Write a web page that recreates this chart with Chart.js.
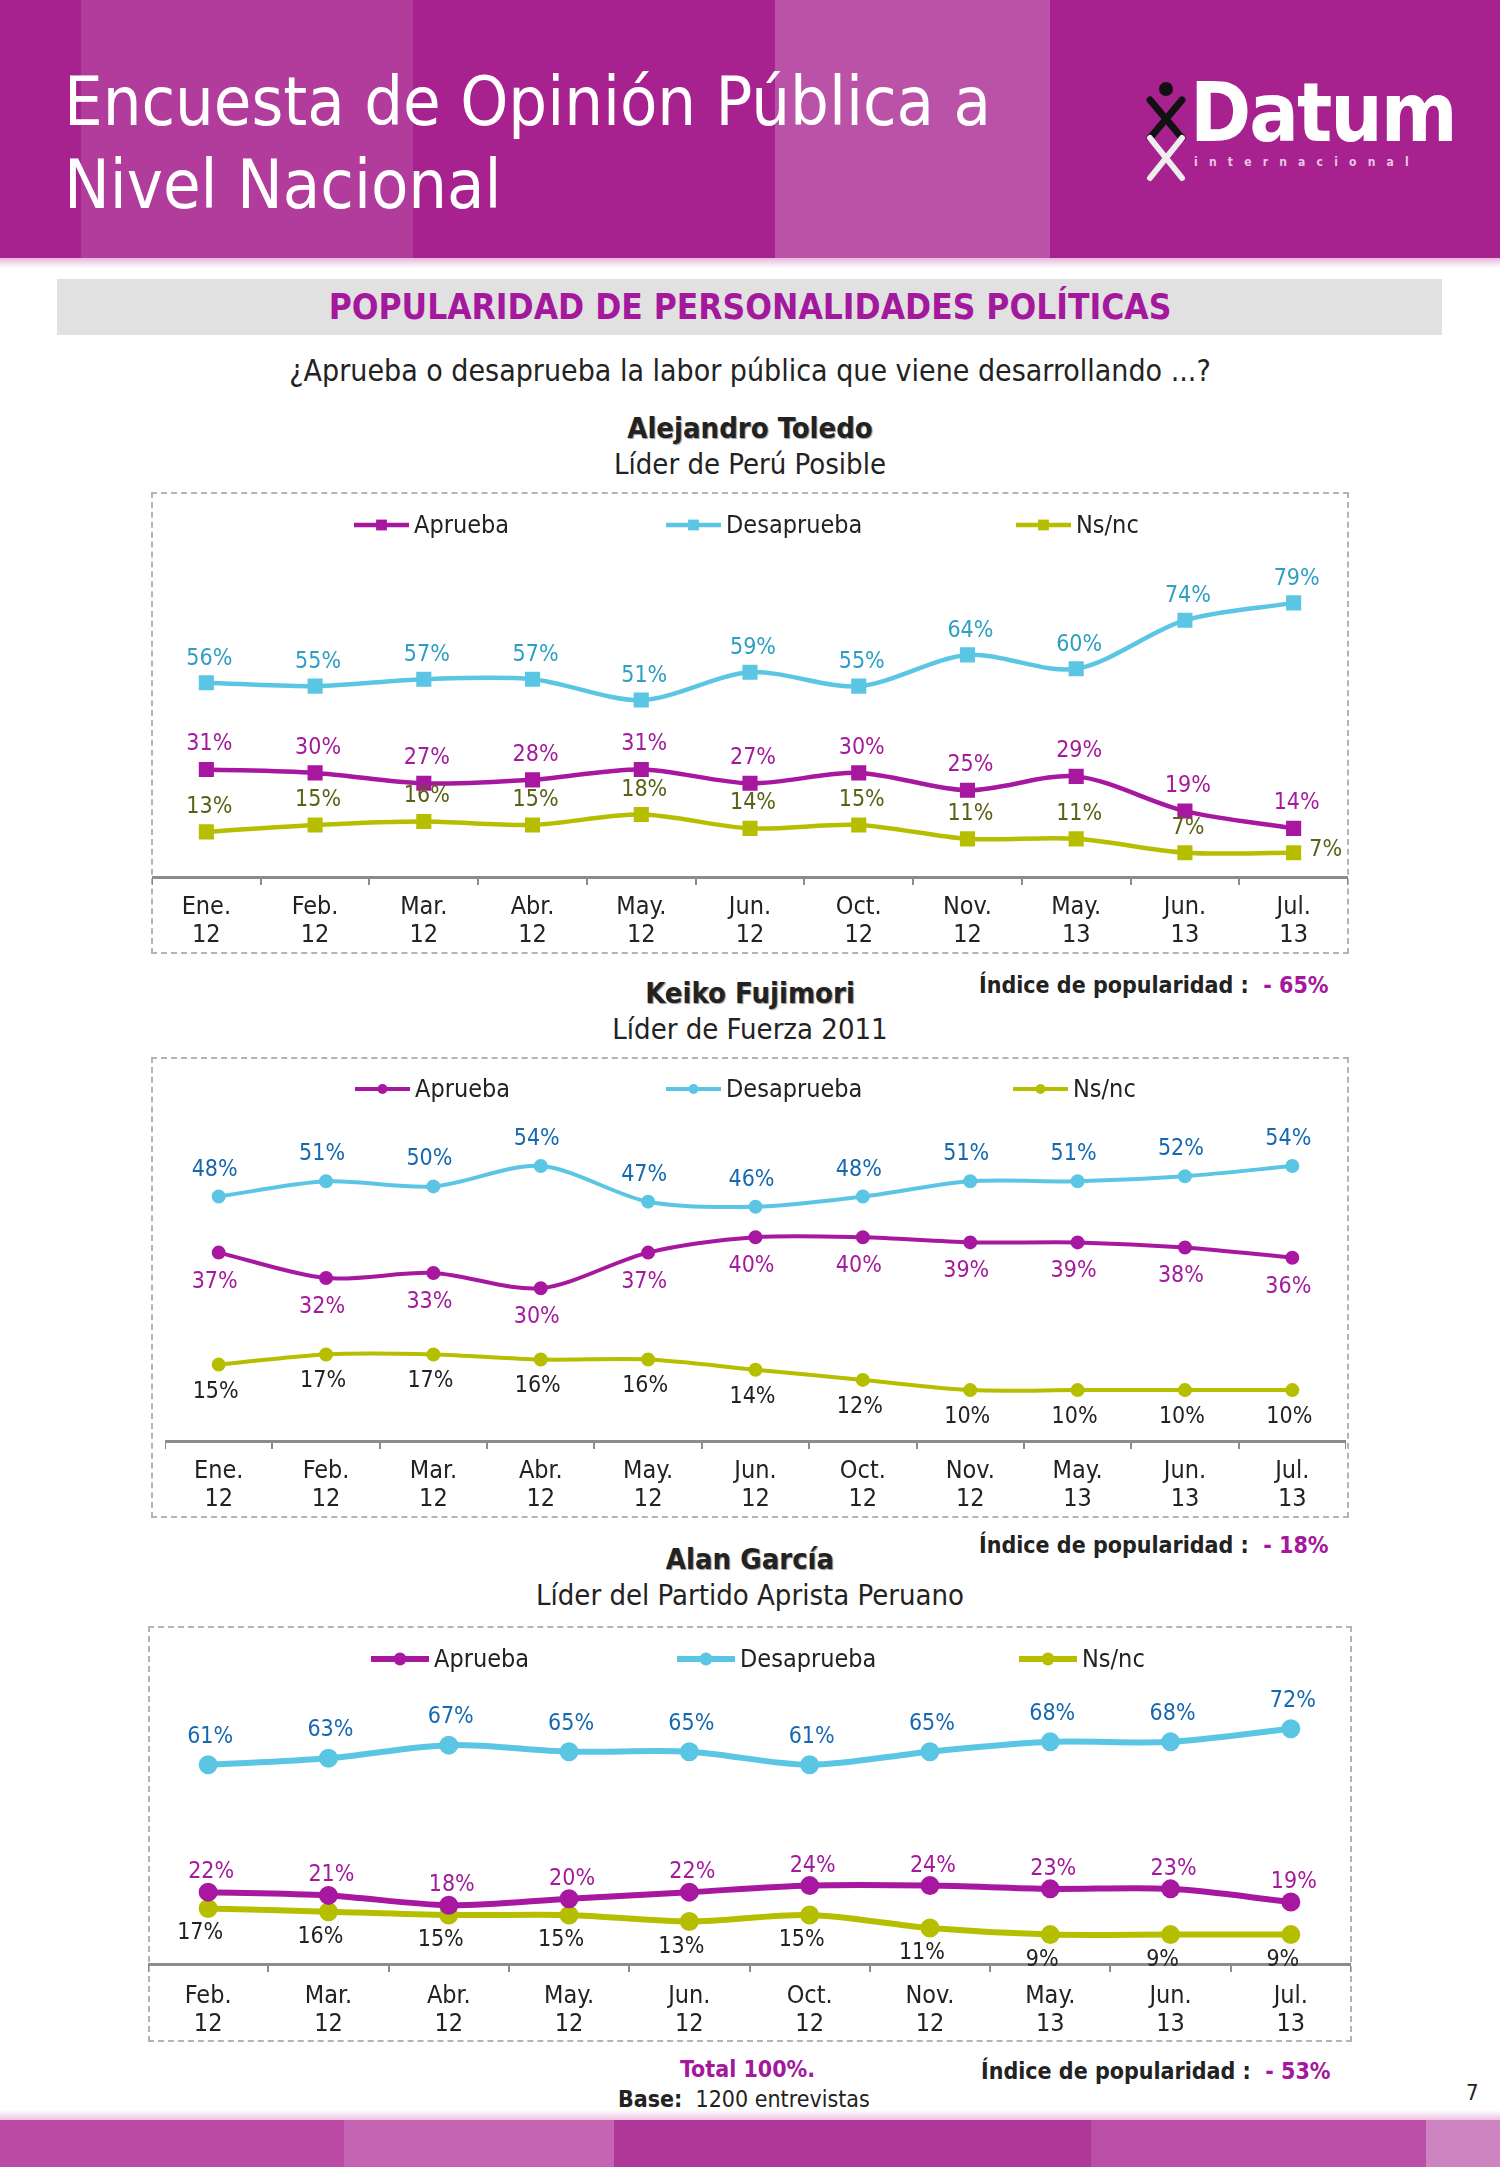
<!DOCTYPE html>
<html>
<head>
<meta charset="utf-8">
<script src="https://cdn.jsdelivr.net/npm/chart.js@4.4.1/dist/chart.umd.min.js"></script>
<style>
  body { margin: 0; background: #fff; }
  #page { position: relative; width: 1500px; height: 2167px; overflow: hidden;
          font-family: 'DejaVu Sans Condensed', 'DejaVu Sans', sans-serif; font-stretch: condensed; color: #222; }
  .abs { position: absolute; }
  .stripe { position: absolute; top: 0; height: 100%; }
  .center { left: 0; width: 1500px; text-align: center; white-space: nowrap; }
  .box { position: absolute; border: 2px dashed #b4b4b4; box-sizing: border-box; }
  .plot { position: absolute; }
  .idx { font-size: 23px; font-weight: bold; white-space: nowrap; color: #222; }
  .idx b { color: #a3189c; }
  .leg { position: absolute; display: flex; align-items: center; font-size: 25px; line-height: 28px; white-space: nowrap; }
  .leg canvas { margin-right: 5px; }
</style>
</head>
<body>
<div id="page">
  <!-- header band -->
  <div class="abs" style="left:0;top:0;width:1500px;height:258px;background:#a8228f;">
    <div class="stripe" style="left:81px;width:332px;background:#b13c9c;"></div>
    <div class="stripe" style="left:775px;width:275px;background:#ba52a8;"></div>
  </div>
  <div class="abs" style="left:0;top:258px;width:1500px;height:10px;background:linear-gradient(#e7b7dc,#fff);"></div>
  <div class="abs" style="left:64px;top:68px;font-size:68px;line-height:68px;color:#fff;white-space:nowrap;">Encuesta de Opinión Pública a</div>
  <div class="abs" style="left:64px;top:151px;font-size:68px;line-height:68px;color:#fff;white-space:nowrap;">Nivel Nacional</div>

  <!-- logo -->
  <svg class="abs" style="left:1142px;top:80px;" width="48" height="104" viewBox="0 0 48 104">
    <circle cx="24" cy="9" r="7" fill="#111"/>
    <path d="M8 20 L40 58 M40 20 L8 58" stroke="#111" stroke-width="7" stroke-linecap="round"/>
    <path d="M8 58 Q24 78 40 98 M40 58 Q24 78 8 98" stroke="#eee" stroke-width="6" stroke-linecap="round" fill="none"/>
  </svg>
  <div class="abs" style="left:1190px;top:72px;font-size:82px;line-height:82px;font-weight:bold;color:#fff;letter-spacing:-2px;">Datum</div>
  <div class="abs" style="left:1194px;top:156px;font-size:12px;line-height:12px;font-weight:bold;color:#e9c6e2;letter-spacing:11.2px;">internacional</div>

  <!-- section title -->
  <div class="abs" style="left:57px;top:279px;width:1385px;height:56px;background:#e1e1e1;"></div>
  <div class="abs center" style="top:288px;font-size:35px;line-height:38px;font-weight:bold;color:#a3189c;">POPULARIDAD DE PERSONALIDADES POLÍTICAS</div>
  <div class="abs center" style="top:355px;font-size:30px;line-height:32px;">¿Aprueba o desaprueba la labor pública que viene desarrollando ...?</div>

  <!-- Toledo -->
  <div class="abs center" style="top:412px;font-size:29px;line-height:32px;font-weight:bold;text-shadow:1px 1px 1px #999;">Alejandro Toledo</div>
  <div class="abs center" style="top:448px;font-size:29px;line-height:32px;">Líder de Perú Posible</div>
  <div class="box" style="left:151px;top:492px;width:1198px;height:462px;"></div>
  <div class="plot" style="left:152px;top:494px;width:1196px;height:463px;"><canvas id="c1"></canvas></div>
  <div class="abs idx" style="left:979px;top:972px;">Índice de popularidad :&nbsp; <b>- 65%</b></div>

  <!-- Keiko -->
  <div class="abs center" style="top:977px;font-size:29px;line-height:32px;font-weight:bold;text-shadow:1px 1px 1px #999;">Keiko Fujimori</div>
  <div class="abs center" style="top:1013px;font-size:29px;line-height:32px;">Líder de Fuerza 2011</div>
  <div class="box" style="left:151px;top:1057px;width:1198px;height:461px;"></div>
  <div class="plot" style="left:165px;top:1059px;width:1181px;height:462px;"><canvas id="c2"></canvas></div>
  <div class="abs idx" style="left:979px;top:1532px;">Índice de popularidad :&nbsp; <b>- 18%</b></div>

  <!-- García -->
  <div class="abs center" style="top:1543px;font-size:29px;line-height:32px;font-weight:bold;text-shadow:1px 1px 1px #999;">Alan García</div>
  <div class="abs center" style="top:1579px;font-size:29px;line-height:32px;">Líder del Partido Aprista Peruano</div>
  <div class="box" style="left:148px;top:1626px;width:1204px;height:416px;"></div>
  <div class="plot" style="left:148px;top:1628px;width:1203px;height:420px;"><canvas id="c3"></canvas></div>
  <div class="abs idx" style="left:981px;top:2058px;">Índice de popularidad :&nbsp; <b>- 53%</b></div>

  <!-- footer notes -->
  <div class="abs" style="left:680px;top:2056px;font-size:23px;line-height:26px;font-weight:bold;color:#a3189c;">Total 100%.</div>
  <div class="abs" style="left:618px;top:2086px;font-size:23px;line-height:26px;white-space:nowrap;"><b>Base:</b>&nbsp; 1200 entrevistas</div>
  <div class="abs" style="left:1466px;top:2080px;font-size:22px;line-height:26px;">7</div>

  <!-- footer band -->
  <div class="abs" style="left:0;top:2110px;width:1500px;height:10px;background:linear-gradient(#fff,#ecc3e3);"></div>
  <div class="abs" style="left:0;top:2120px;width:1500px;height:47px;background:#bb4ba6;">
    <div class="stripe" style="left:344px;width:270px;background:#c564b2;"></div>
    <div class="stripe" style="left:614px;width:477px;background:#ae3797;"></div>
    <div class="stripe" style="left:1091px;width:335px;background:#bb4fa8;"></div>
    <div class="stripe" style="left:1426px;width:74px;background:#cc83c0;"></div>
  </div>
</div>

<script>
// ---- data ----
const months1 = [["Ene.","12"],["Feb.","12"],["Mar.","12"],["Abr.","12"],["May.","12"],["Jun.","12"],["Oct.","12"],["Nov.","12"],["May.","13"],["Jun.","13"],["Jul.","13"]];
const toledoAprueba    = [31, 30, 27, 28, 31, 27, 30, 25, 29, 19, 14];
const toledoDesaprueba = [56, 55, 57, 57, 51, 59, 55, 64, 60, 74, 79];
const toledoNsnc       = [13, 15, 16, 15, 18, 14, 15, 11, 11, 7, 7];

const keikoAprueba    = [37, 32, 33, 30, 37, 40, 40, 39, 39, 38, 36];
const keikoDesaprueba = [48, 51, 50, 54, 47, 46, 48, 51, 51, 52, 54];
const keikoNsnc       = [15, 17, 17, 16, 16, 14, 12, 10, 10, 10, 10];

const months3 = [["Feb.","12"],["Mar.","12"],["Abr.","12"],["May.","12"],["Jun.","12"],["Oct.","12"],["Nov.","12"],["May.","13"],["Jun.","13"],["Jul.","13"]];
const garciaAprueba    = [22, 21, 18, 20, 22, 24, 24, 23, 23, 19];
const garciaDesaprueba = [61, 63, 67, 65, 65, 61, 65, 68, 68, 72];
const garciaNsnc       = [17, 16, 15, 15, 13, 15, 11, 9, 9, 9];

const seriesNames = ["Aprueba", "Desaprueba", "Ns/nc"];

// ---- style ----
const FONT = "'DejaVu Sans Condensed', 'DejaVu Sans', sans-serif";
const PURPLE = "#a8179f", CYAN = "#5bc6e3", OLIVE = "#b6be00";
Chart.defaults.font.family = FONT;
Chart.defaults.color = "#222";

function legendMark(color, shape, lw, r, len) {
  const c = document.createElement("canvas");
  c.width = len; c.height = 18;
  const g = c.getContext("2d");
  g.strokeStyle = color; g.lineWidth = lw;
  g.beginPath(); g.moveTo(0, 9); g.lineTo(len, 9); g.stroke();
  g.fillStyle = color;
  if (shape === "rect") g.fillRect(len / 2 - r * 0.72, 9 - r * 0.72, r * 1.44, r * 1.44);
  else { g.beginPath(); g.arc(len / 2, 9, r, 0, Math.PI * 2); g.fill(); }
  return c;
}

// value labels next to each point
const pointLabels = {
  id: "pointLabels",
  afterDatasetsDraw(chart) {
    const ctx = chart.ctx;
    ctx.save();
    ctx.font = "23px " + FONT;
    ctx.textAlign = "center";
    ctx.textBaseline = "middle";
    chart.data.datasets.forEach((ds, i) => {
      chart.getDatasetMeta(i).data.forEach((pt, j) => {
        let x = pt.x + ds.labelDx, y = pt.y + ds.labelDy;
        if (ds.labelRight && ds.labelRight.includes(j)) { x = pt.x + 32; y = pt.y - 3; }
        ctx.fillStyle = ds.labelColor;
        ctx.fillText(ds.data[j] + "%", x, y);
      });
    });
    ctx.restore();
  }
};

function makeChart(id, months, values, cfg) {
  const colors = [PURPLE, CYAN, OLIVE];
  const datasets = values.map((v, i) => ({
    label: seriesNames[i],
    data: v,
    borderColor: colors[i],
    backgroundColor: colors[i],
    borderWidth: cfg.lw,
    pointStyle: cfg.shape,
    pointRadius: cfg.r,
    tension: 0.3,
    clip: false,
    labelDy: cfg.dy[i],
    labelDx: cfg.dx ? cfg.dx[i] : 0,
    labelColor: cfg.labelColors[i],
    labelRight: cfg.right ? cfg.right[i] : null
  }));
  const chart = new Chart(document.getElementById(id), {
    type: "line",
    data: { labels: months, datasets },
    options: {
      responsive: true,
      maintainAspectRatio: false,
      animation: false,
      layout: { padding: { top: cfg.padTop, bottom: 0, left: 0, right: 0 }, autoPadding: false },
      plugins: { tooltip: { enabled: false }, legend: { display: false } },
      scales: {
        x: {
          offset: true,
          grid: { offset: true, drawOnChartArea: false, tickLength: 8, color: "#8c8c8c", lineWidth: 2 },
          border: { color: "#8c8c8c", width: 3 },
          ticks: { color: "#222", font: { size: 25, lineHeight: 1.12 }, padding: cfg.tickPad, maxRotation: 0, autoSkip: false }
        },
        y: { display: false, min: 0, max: cfg.yMax }
      }
    },
    plugins: [pointLabels]
  });

  // legend built from the chart's own legend items
  const items = Chart.defaults.plugins.legend.labels.generateLabels(chart);
  items.forEach((it, i) => {
    const el = document.createElement("div");
    el.className = "leg";
    el.style.left = cfg.legendX[i] + "px";
    el.style.top = (cfg.legendY - 14) + "px";
    el.appendChild(legendMark(colors[it.datasetIndex], cfg.shape, cfg.lw, cfg.r, cfg.legendLen));
    el.appendChild(document.createTextNode(it.text));
    document.getElementById("page").appendChild(el);
  });
}

makeChart("c1", months1, [toledoAprueba, toledoDesaprueba, toledoNsnc], {
  lw: 4.5, shape: "rect", r: 7.5, yMax: 100, padTop: 36, tickPad: 8,
  dy: [-25, -24, -25], dx: [3, 3, 3], right: [null, null, [10]],
  labelColors: ["#a31a9c", "#2d9fc2", "#5b6016"],
  legendX: [354, 666, 1016], legendY: 525, legendLen: 55
});

makeChart("c2", months1, [keikoAprueba, keikoDesaprueba, keikoNsnc], {
  lw: 4, shape: "circle", r: 5, yMax: 65, padTop: 51, tickPad: 8,
  dy: [29, -27, 27], dx: [-4, -4, -3],
  labelColors: ["#a31a9c", "#1668b0", "#222"],
  legendX: [355, 666, 1013], legendY: 1089, legendLen: 55
});

makeChart("c3", months3, [garciaAprueba, garciaDesaprueba, garciaNsnc], {
  lw: 6, shape: "circle", r: 6.5, yMax: 90, padTop: 42, tickPad: 10,
  dy: [-20, -28, 25], dx: [3, 2, -8],
  labelColors: ["#a31a9c", "#1668b0", "#222"],
  legendX: [371, 677, 1019], legendY: 1659, legendLen: 58
});
</script>
</body>
</html>
